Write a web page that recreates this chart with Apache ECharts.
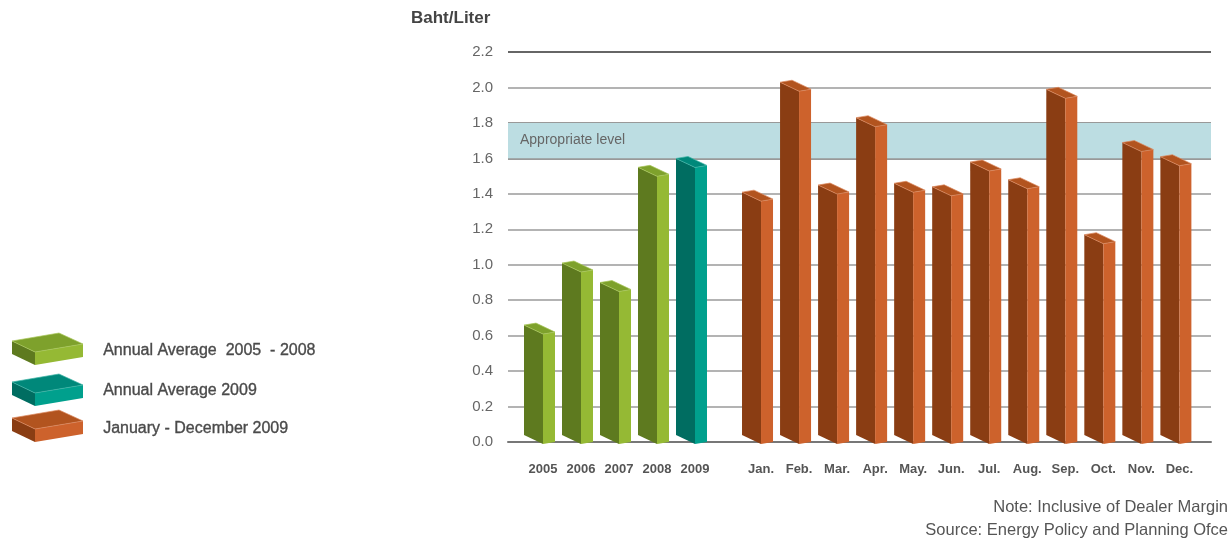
<!DOCTYPE html>
<html>
<head>
<meta charset="utf-8">
<title>Baht/Liter</title>
<script src="https://cdn.jsdelivr.net/npm/echarts@6/dist/echarts.min.js"></script>
<style>
  html, body { margin: 0; padding: 0; background: #fff; }
  #chart { width: 1229px; height: 538px; }
</style>
</head>
<body>
<div id="chart"></div>
<script>
// data
const years = ["2005", "2006", "2007", "2008", "2009"];
const yearValues = [0.62, 0.97, 0.86, 1.51, 1.56];
const yearColours = [0, 0, 0, 0, 1]; // 0 = 2005-2008, 1 = 2009
const months = ["Jan.", "Feb.", "Mar.", "Apr.", "May.", "Jun.", "Jul.", "Aug.", "Sep.", "Oct.", "Nov.", "Dec."];
const monthValues = [1.37, 1.99, 1.41, 1.79, 1.42, 1.40, 1.54, 1.44, 1.95, 1.13, 1.65, 1.57];
const legendNames = ["Annual Average  2005  - 2008", "Annual Average 2009", "January - December 2009"];
const band = [1.6, 1.8];
const bandLabel = "Appropriate level";

const palettes = [
  { dark: "#5e7a1f", light: "#95b934", top: "#7ea12c", edge: "#a9c75a" },
  { dark: "#006d61", light: "#00a08d", top: "#00887a", edge: "#3db5a6" },
  { dark: "#8a3d13", light: "#cd622c", top: "#b2541f", edge: "#dc8a60" },
];

const font = "'Liberation Sans', Arial, sans-serif";
const chart = echarts.init(document.getElementById("chart"));

function renderBar(params, api) {
  const v = api.value(1);
  const top = api.coord([api.value(0), v]);
  const base = api.coord([api.value(0), 0]);
  const x = top[0];
  const yt = top[1];
  const yb = base[1];
  const pal = palettes[api.value(2)];
  return {
    type: "group",
    children: [
      { type: "polygon", shape: { points: [[x - 19, yt - 7], [x, yt + 2], [x, yb + 2], [x - 19, yb - 7]] }, style: { fill: pal.dark } },
      { type: "polygon", shape: { points: [[x, yt + 2], [x + 12, yt], [x + 12, yb], [x, yb + 2]] }, style: { fill: pal.light } },
      { type: "polygon", shape: { points: [[x - 19, yt - 7], [x - 7, yt - 9], [x + 12, yt], [x, yt + 2]] }, style: { fill: pal.top, stroke: pal.edge, lineWidth: 0.7 } },
    ],
  };
}

// legend slabs on the left
function slab(dy, pal) {
  const L = [12, 341 + dy], B = [59, 333 + dy], R = [83, 344 + dy], F = [35, 352 + dy], h = 13;
  return [
    { type: "polygon", shape: { points: [L, F, [F[0], F[1] + h], [L[0], L[1] + h]] }, style: { fill: pal.dark } },
    { type: "polygon", shape: { points: [F, R, [R[0], R[1] + h], [F[0], F[1] + h]] }, style: { fill: pal.light } },
    { type: "polygon", shape: { points: [L, B, R, F] }, style: { fill: pal.top, stroke: pal.edge, lineWidth: 0.7 } },
  ];
}
const slabOffsets = [0, 41, 77];
const legendGraphics = [];
legendNames.forEach((name, i) => {
  legendGraphics.push(...slab(slabOffsets[i], palettes[i]));
  legendGraphics.push({
    type: "text", left: 103, top: 342 + [0, 40, 78][i],
    style: { text: name, fill: "#4a4a4a", stroke: "#4a4a4a", lineWidth: 0.35, font: "16px " + font },
  });
});

const gridTop = 52;
const gridBottom = 96;
const labelStyle = { color: "#555", fontSize: 13, fontWeight: "bold", fontFamily: font, margin: 21 };

const option = {
  animation: false,
  backgroundColor: "#fff",
  grid: [
    { left: 524, width: 190, top: gridTop, bottom: gridBottom },
    { left: 742, width: 456.4, top: gridTop, bottom: gridBottom },
    { left: 508, right: 18, top: gridTop, bottom: gridBottom },
  ],
  xAxis: [
    { type: "category", gridIndex: 0, data: years, axisLine: { show: false }, axisTick: { show: false }, axisLabel: labelStyle },
    { type: "category", gridIndex: 1, data: months, axisLine: { show: false }, axisTick: { show: false }, axisLabel: labelStyle },
    { type: "value", gridIndex: 2, min: 0, max: 1, show: true, axisLabel: { show: false }, axisTick: { show: false }, splitLine: { show: false },
      axisLine: { lineStyle: { color: "#777", width: 2 } } },
  ],
  yAxis: [
    { type: "value", gridIndex: 0, min: 0, max: 2.2, interval: 0.2, show: false },
    { type: "value", gridIndex: 1, min: 0, max: 2.2, interval: 0.2, show: false },
    {
      type: "value", gridIndex: 2, min: 0, max: 2.2, interval: 0.2,
      axisLine: { show: false }, axisTick: { show: false },
      axisLabel: { color: "#666", fontSize: 15, margin: 15, fontFamily: font, formatter: (v) => v.toFixed(1) },
      splitLine: { lineStyle: { color: ["#777", "#b3b3b3", "#b3b3b3", "#b3b3b3", "#b3b3b3", "#b3b3b3", "#b3b3b3", "#b3b3b3", "#999", "#999", "#b3b3b3", "#666"], width: 2 } },
    },
  ],
  graphic: legendGraphics.concat([
    { type: "text", left: 411, top: 10, style: { text: "Baht/Liter", fill: "#444", font: "bold 17px " + font } },
    { type: "text", right: 1, top: 499, style: { text: "Note: Inclusive of Dealer Margin", fill: "#555", font: "16.5px " + font } },
    { type: "text", right: 1, top: 522, style: { text: "Source: Energy Policy and Planning Ofce", fill: "#555", font: "16.5px " + font } },
  ]),
  series: [
    {
      type: "line", xAxisIndex: 2, yAxisIndex: 2, data: [], silent: true, z: 1,
      markArea: {
        silent: true,
        itemStyle: { color: "#bcdde2" },
        label: { show: true, position: "insideLeft", color: "#666", fontSize: 14, distance: 12, fontFamily: font },
        data: [[{ name: bandLabel, yAxis: band[0] }, { yAxis: band[1] }]],
      },
    },
    {
      name: "annual", type: "custom", xAxisIndex: 0, yAxisIndex: 0, clip: false, z: 3,
      renderItem: renderBar, encode: { x: 0, y: 1 },
      data: years.map((y, i) => [i, yearValues[i], yearColours[i]]),
    },
    {
      name: "monthly", type: "custom", xAxisIndex: 1, yAxisIndex: 1, clip: false, z: 3,
      renderItem: renderBar, encode: { x: 0, y: 1 },
      data: months.map((m, i) => [i, monthValues[i], 2]),
    },
  ],
};

chart.setOption(option);
</script>
</body>
</html>
